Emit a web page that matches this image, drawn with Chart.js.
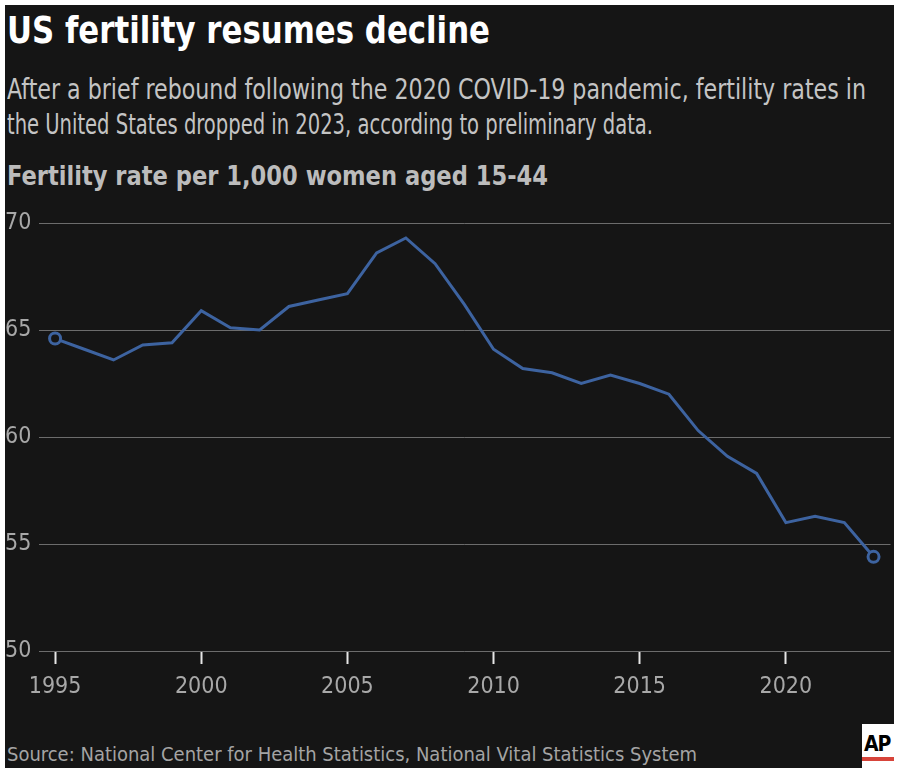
<!DOCTYPE html>
<html>
<head>
<meta charset="utf-8">
<script src="https://cdn.jsdelivr.net/npm/chart.js@4.4.1/dist/chart.umd.min.js"></script>
<style>
  html, body { margin: 0; padding: 0; background: #fff; }
  #panel { position: absolute; left: 5px; top: 5px; width: 889px; height: 763px; background: #151515; overflow: hidden; }
  .txt { position: absolute; left: 2px; white-space: nowrap; line-height: 1; transform-origin: 0 0;
         font-family: "Liberation Sans Narrow", "DejaVu Sans Condensed", "Roboto", sans-serif; }
  #chartBox { position: absolute; left: 0; top: 195px; width: 894px; height: 505px; }
  #ap { position: absolute; left: 857px; top: 719px; width: 32px; height: 44px; background: #fff; }
  #ap span { position: absolute; left: 2px; top: 8px; font: bold 21px "Liberation Sans Narrow", "DejaVu Sans Condensed", sans-serif; color: #000; letter-spacing: -1px; }
  #ap i { position: absolute; left: 0; right: 0; top: 33px; height: 4px; background: #d7443a; }
</style>
</head>
<body>
<div id="panel">
  <div class="txt" id="title" data-w="483" data-base="38" style="font-size:38px;font-weight:bold;color:#fff">US fertility resumes decline</div>
  <div class="txt" id="sub1" data-w="859" data-base="95" style="font-size:28px;color:#c4c4c4">After a brief rebound following the 2020 COVID-19 pandemic, fertility rates in</div>
  <div class="txt" id="sub2" data-w="646" data-base="130" style="font-size:28px;color:#c4c4c4">the United States dropped in 2023, according to preliminary data.</div>
  <div class="txt" id="axisTitle" data-w="541" data-base="180" style="font-size:27px;font-weight:bold;color:#bcbcbc">Fertility rate per 1,000 women aged 15-44</div>
  <div class="txt" id="source" data-w="690" data-base="756" style="font-size:20px;color:#a4a4a4">Source: National Center for Health Statistics, National Vital Statistics System</div>
  <div id="chartBox"><canvas id="chart"></canvas></div>
  <div id="ap"><span>AP</span><i></i></div>
</div>
<script>
const years = [1995, 1996, 1997, 1998, 1999, 2000, 2001, 2002, 2003, 2004,
               2005, 2006, 2007, 2008, 2009, 2010, 2011, 2012, 2013, 2014,
               2015, 2016, 2017, 2018, 2019, 2020, 2021, 2022, 2023];
const rates = [64.6, 64.1, 63.6, 64.3, 64.4, 65.9, 65.1, 65.0, 66.1, 66.4,
               66.7, 68.6, 69.3, 68.1, 66.2, 64.1, 63.2, 63.0, 62.5, 62.9,
               62.5, 62.0, 60.3, 59.1, 58.3, 56.0, 56.3, 56.0, 54.4];
const xTicks = [1995, 2000, 2005, 2010, 2015, 2020];
const yTicks = [50, 55, 60, 65, 70];

// place text by baseline and squeeze to the measured width of the original
document.querySelectorAll('.txt').forEach(el => {
  const fs = parseFloat(el.style.fontSize);
  el.style.top = (parseFloat(el.dataset.base) - 0.85 * fs) + 'px';
  const w = el.getBoundingClientRect().width;
  el.style.transform = 'scaleX(' + (parseFloat(el.dataset.w) / w) + ')';
});

const lineColor = '#3d63a0';
const tickFont = { family: '"Liberation Sans Narrow", "DejaVu Sans Condensed", sans-serif', size: 23 };
const lastIdx = rates.length - 1;

new Chart(document.getElementById('chart'), {
  type: 'line',
  data: {
    datasets: [{
      data: years.map((y, i) => ({ x: y, y: rates[i] })),
      borderColor: lineColor,
      borderWidth: 3,
      tension: 0,
      pointRadius: rates.map((v, i) => (i === 0 || i === lastIdx) ? 5.5 : 0),
      pointBorderWidth: 3,
      pointBorderColor: lineColor,
      pointBackgroundColor: '#151515'
    }]
  },
  options: {
    responsive: true,
    maintainAspectRatio: false,
    animation: false,
    layout: { padding: { top: 23, right: 3, bottom: 0, left: 0 } },
    plugins: { legend: { display: false }, tooltip: { enabled: false } },
    scales: {
      x: {
        type: 'linear',
        min: 1994.45,
        max: 2023.58,
        afterBuildTicks: s => { s.ticks = xTicks.map(v => ({ value: v })); },
        afterFit: s => { s.height = 54; },
        border: { display: false },
        grid: { drawOnChartArea: false, drawTicks: true, tickLength: 13, tickColor: '#e6e6e6', tickWidth: 2 },
        ticks: { color: '#a8a8a8', font: tickFont, padding: 9, maxRotation: 0, callback: v => String(v) }
      },
      y: {
        min: 50,
        max: 70,
        afterBuildTicks: s => { s.ticks = yTicks.map(v => ({ value: v })); },
        afterFit: s => { s.width = 34; },
        border: { display: false },
        grid: { color: '#6c6c6c', lineWidth: 1, drawTicks: false },
        ticks: { color: '#a8a8a8', font: tickFont, crossAlign: 'far', padding: 0 }
      }
    }
  }
});
</script>
</body>
</html>
